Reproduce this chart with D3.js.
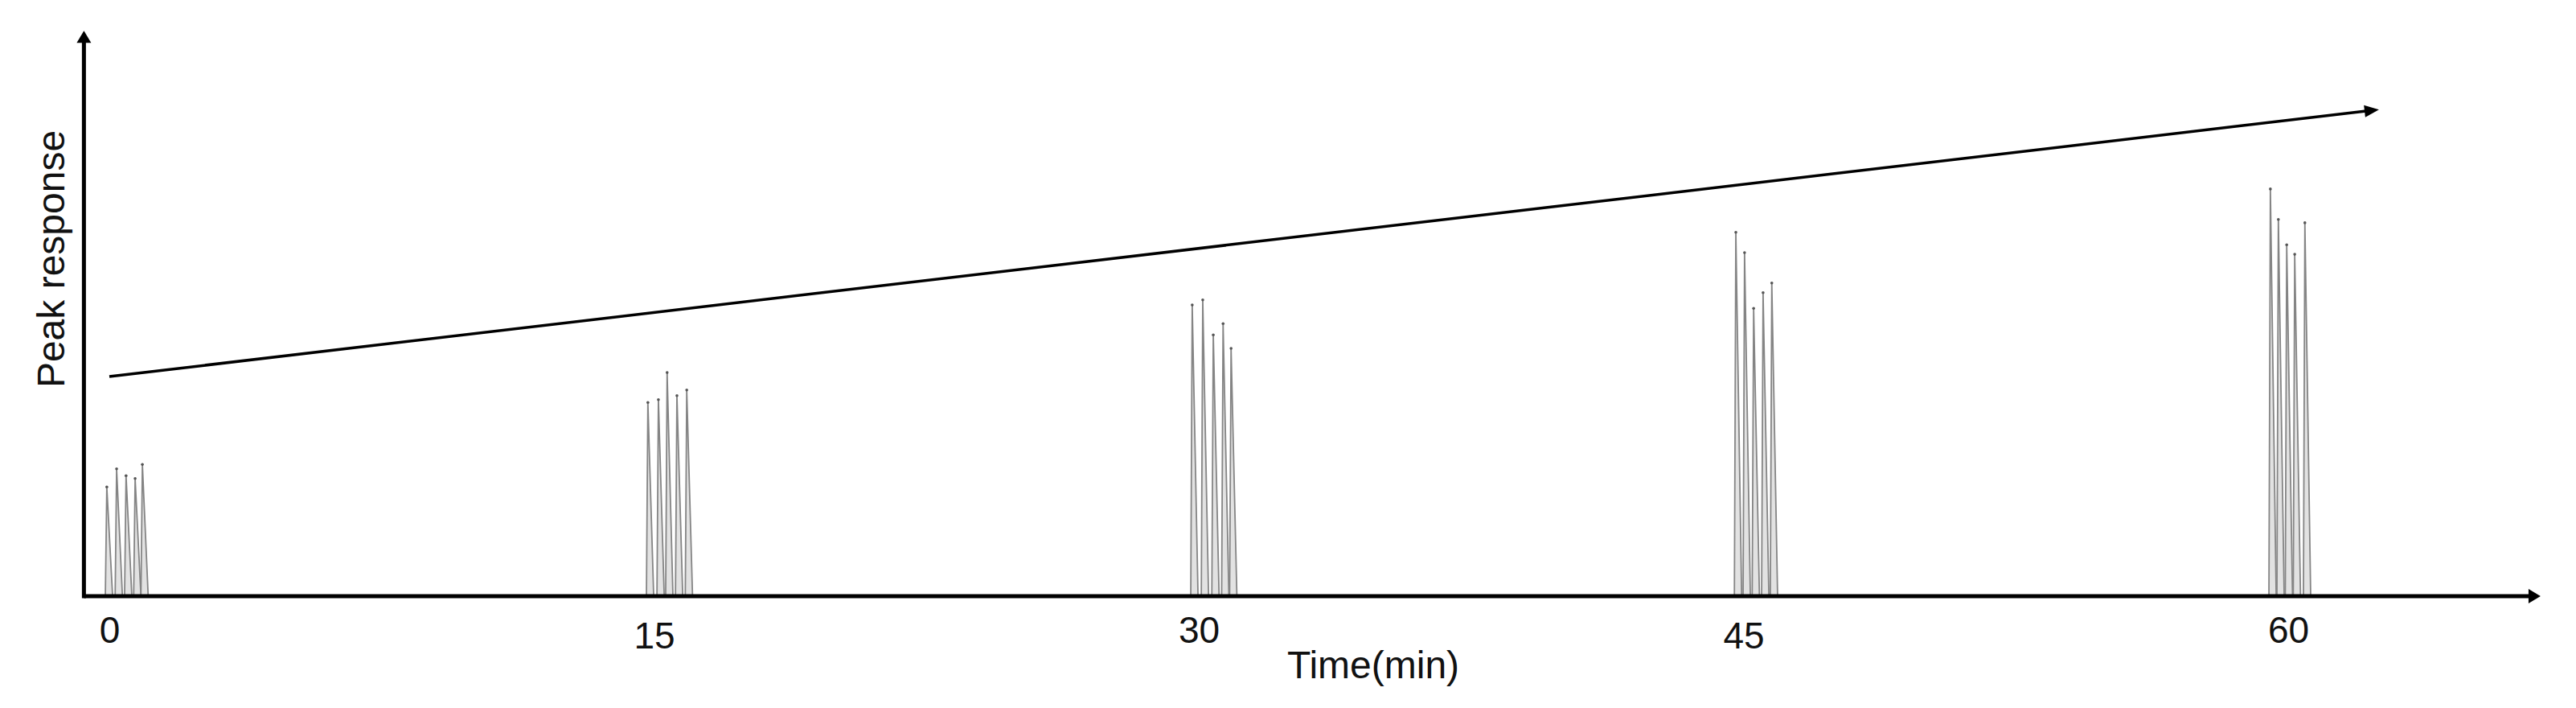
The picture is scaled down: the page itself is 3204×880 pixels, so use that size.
<!DOCTYPE html>
<html>
<head>
<meta charset="utf-8">
<script src="https://cdn.jsdelivr.net/npm/d3@7"></script>
<style>
body { margin: 0; background: #fff; }
svg { display: block; font-family: "Liberation Sans", Arial, sans-serif; }
</style>
</head>
<body>
<svg id="chart"></svg>
<script>
var width = 3204;
var height = 880;

// injection times on the axis (min)
var groupTimes = [0, 15, 30, 45, 60];
var tickLabels = ["0", "15", "30", "45", "60"];

// apex time of each of the five peaks per group (min)
var peakTimes0  = [-0.07, 0.20, 0.46, 0.71, 0.91];
var peakTimes15 = [14.83, 15.12, 15.36, 15.63, 15.90];
var peakTimes30 = [29.82, 30.11, 30.40, 30.67, 30.89];
var peakTimes45 = [44.79, 45.03, 45.28, 45.54, 45.78];
var peakTimes60 = [59.51, 59.73, 59.96, 60.18, 60.46];

// peak response (arbitrary units, 0-100)
var peakHeights0  = [19.4, 22.6, 21.4, 20.9, 23.4];
var peakHeights15 = [34.4, 34.9, 39.7, 35.6, 36.6];
var peakHeights30 = [51.7, 52.6, 46.4, 48.4, 44.0];
var peakHeights45 = [64.6, 61.0, 51.1, 53.9, 55.6];
var peakHeights60 = [72.3, 66.9, 62.4, 60.7, 66.3];

// trend arrow (time, response)
var trendTimes = [0, 62.5];
var trendValues = [39, 86.4];

var allTimes = [peakTimes0, peakTimes15, peakTimes30, peakTimes45, peakTimes60];
var allHeights = [peakHeights0, peakHeights15, peakHeights30, peakHeights45, peakHeights60];

var peaks = [];
allTimes.forEach(function(ts, g) {
	ts.forEach(function(t, i) { peaks.push({ t: t, v: allHeights[g][i] }); });
});

var svg = d3.select("#chart").attr("width", width).attr("height", height);

var x = d3.scaleLinear().domain([0, 60]).range([136, 2846]);
var y = d3.scaleLinear().domain([0, 100]).range([741, 41]);

function arrowHead(x1, y1, x2, y2, len, hw, sw) {
	var a = Math.atan2(y2 - y1, x2 - x1);
	var bx = x2 - len * Math.cos(a), by = y2 - len * Math.sin(a);
	var px = -Math.sin(a) * hw, py = Math.cos(a) * hw;
	svg.append("line")
		.attr("x1", x1).attr("y1", y1).attr("x2", bx + Math.cos(a) * 2).attr("y2", by + Math.sin(a) * 2)
		.attr("stroke", "#000").attr("stroke-width", sw);
	svg.append("path")
		.attr("d", "M" + x2 + "," + y2 + "L" + (bx + px) + "," + (by + py) + "L" + (bx - px) + "," + (by - py) + "Z")
		.attr("fill", "#000");
}

// peaks: sharp rise, short tail
var riseBack = 0.04, tail = 0.16;
var peakLine = d3.line().x(function(d) { return x(d[0]); }).y(function(d) { return y(d[1]); });

svg.append("g").selectAll("path")
	.data(peaks).enter().append("path")
	.attr("d", function(d) { return peakLine([[d.t - riseBack, 0], [d.t, d.v], [d.t + tail, 0]]); })
	.attr("fill", "#e2e2e2")
	.attr("stroke", "#858585")
	.attr("stroke-width", 1.8)
	.attr("stroke-linejoin", "round");

svg.append("g").selectAll("circle")
	.data(peaks).enter().append("circle")
	.attr("cx", function(d) { return x(d.t); })
	.attr("cy", function(d) { return y(d.v); })
	.attr("r", 1.8)
	.attr("fill", "#555");

// axes with arrowheads
arrowHead(x(-0.7), y(0), x(66.95), y(0), 15, 9, 5);
arrowHead(x(-0.7), y(0) + 2.5, x(-0.7), y(100.4), 15, 9, 5);

// trend arrow
arrowHead(x(trendTimes[0]), y(trendValues[0]), x(trendTimes[1]), y(trendValues[1]), 18, 7.5, 3.5);

// tick labels
var xAxis = d3.axisBottom(x).tickValues(groupTimes).tickSize(0).tickPadding(25)
	.tickFormat(function(d, i) { return tickLabels[i]; });
var gx = svg.append("g").attr("transform", "translate(0," + y(0) + ")").call(xAxis);
gx.select(".domain").remove();
gx.selectAll("text")
	.attr("font-family", "Liberation Sans, Arial, sans-serif")
	.attr("font-size", 46)
	.attr("fill", "#111")
	.attr("dy", function(d, i) { return i % 2 ? "0.88em" : "0.71em"; });

svg.append("text")
	.attr("x", 1708).attr("y", 843)
	.attr("text-anchor", "middle")
	.attr("font-size", 48)
	.attr("fill", "#111")
	.text("Time(min)");

svg.append("text")
	.attr("transform", "translate(80,322) rotate(-90)")
	.attr("text-anchor", "middle")
	.attr("font-size", 48)
	.attr("fill", "#111")
	.text("Peak response");
</script>
</body>
</html>
